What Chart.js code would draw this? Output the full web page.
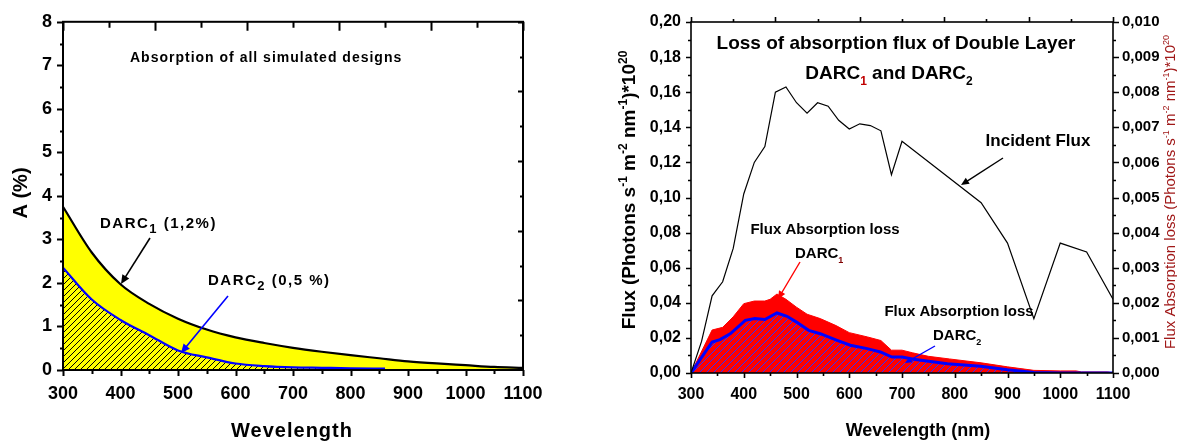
<!DOCTYPE html>
<html>
<head>
<meta charset="utf-8">
<script src="https://cdn.jsdelivr.net/npm/chart.js@4.4.0/dist/chart.umd.min.js"></script>
<style>
  body { margin: 0; background: #fff; }
  #wrap { position: relative; width: 1177px; height: 443px; overflow: hidden; }
  canvas { position: absolute; top: 0; }
  #cA { left: 0; }
  #cB { left: 575px; }
</style>
</head>
<body>
<div id="wrap">
  <canvas id="cA" width="570" height="443"></canvas>
  <canvas id="cB" width="602" height="443"></canvas>
</div>
<script>
// ---- painel esquerdo: absorção (%) ----
const wlD1 = [300, 350, 400, 450, 500, 550, 600, 650, 700, 750, 800, 850, 900, 950, 1000, 1050, 1100];
const absD1 = [3.75, 2.7, 1.97, 1.52, 1.18, 0.93, 0.75, 0.62, 0.51, 0.42, 0.34, 0.27, 0.2, 0.15, 0.11, 0.07, 0.05];
const wlD2 = [300, 350, 400, 450, 500, 550, 600, 650, 700, 750, 800, 860];
const absD2 = [2.35, 1.62, 1.15, 0.8, 0.45, 0.29, 0.15, 0.09, 0.06, 0.05, 0.04, 0.03];

const xTicksA = [300, 400, 500, 600, 700, 800, 900, 1000, 1100];
const xMinorA = [350, 450, 550, 650, 750, 850, 950, 1050];
const yTicksA = [0, 1, 2, 3, 4, 5, 6, 7, 8];
const yMinorA = [0.5, 1.5, 2.5, 3.5, 4.5, 5.5, 6.5, 7.5];
const topTicksA = [300, 460, 620, 780, 940, 1100];
const topMinorA = [380, 540, 700, 860, 1020];
const rightTicksA = [1.6, 3.2, 4.8, 6.4, 8];
const rightMinorA = [0.8, 2.4, 4.0, 5.6, 7.2];

// ---- painel direito: fluxo ----
const wlInc = [300, 320, 340, 360, 380, 400, 420, 440, 460, 480, 500, 520, 540, 560, 580, 600, 620, 640, 660, 680, 700, 850, 900, 950, 1000, 1050, 1100];
const fluxInc = [0, 0.018, 0.044, 0.052, 0.071, 0.102, 0.120, 0.129, 0.160, 0.163, 0.154, 0.148, 0.154, 0.152, 0.144, 0.139, 0.142, 0.141, 0.138, 0.113, 0.132, 0.097, 0.074, 0.031, 0.074, 0.069, 0.042];
const wlLoss1 = [300, 340, 360, 380, 400, 420, 440, 450, 463, 480, 500, 520, 545, 575, 600, 635, 660, 680, 700, 720, 750, 790, 850, 900, 950, 1000, 1030, 1040, 1090, 1100];
const loss1 = [0, 0.0245, 0.026, 0.032, 0.0395, 0.041, 0.041, 0.042, 0.045, 0.042, 0.0375, 0.0335, 0.031, 0.027, 0.023, 0.0205, 0.0185, 0.013, 0.013, 0.0115, 0.0095, 0.008, 0.0058, 0.0035, 0.0015, 0.0012, 0.0012, 0.0006, 0.0006, 0];
const wlLoss2 = [300, 340, 355, 375, 403, 421, 440, 463, 482, 500, 523, 545, 577, 602, 634, 659, 681, 700, 722, 786, 849, 900, 950, 1000, 1100];
const loss2 = [0, 0.0177, 0.019, 0.0225, 0.030, 0.031, 0.0305, 0.0342, 0.0323, 0.029, 0.0243, 0.0224, 0.0186, 0.0158, 0.0139, 0.012, 0.0091, 0.0091, 0.0078, 0.0053, 0.0038, 0.0018, 0.0003, 0, 0];

const xTicksB = [300, 400, 500, 600, 700, 800, 900, 1000, 1100];
const xMinorB = [350, 450, 550, 650, 750, 850, 950, 1050];
const yTicksB = [0, 0.02, 0.04, 0.06, 0.08, 0.10, 0.12, 0.14, 0.16, 0.18, 0.20];
const yMinorB = [0.01, 0.03, 0.05, 0.07, 0.09, 0.11, 0.13, 0.15, 0.17, 0.19];
const y2TicksB = [0, 0.001, 0.002, 0.003, 0.004, 0.005, 0.006, 0.007, 0.008, 0.009, 0.010];
const y2MinorB = [0.0005, 0.0015, 0.0025, 0.0035, 0.0045, 0.0055, 0.0065, 0.0075, 0.0085, 0.0095];
const topTicksB = [300, 460, 620, 780, 940, 1100];
const topMinorB = [380, 540, 700, 860, 1020];

const ARIAL = '"Liberation Sans", Arial, sans-serif';

function pts(xs, ys) { return xs.map((x, i) => ({ x, y: ys[i] })); }
function virgula(v, casas) { return v.toFixed(casas).replace('.', ','); }

function hachura(bg, fg, size, lw) {
  const c = document.createElement('canvas');
  c.width = c.height = size;
  const g = c.getContext('2d');
  g.fillStyle = bg;
  g.fillRect(0, 0, size, size);
  g.strokeStyle = fg;
  g.lineWidth = lw;
  g.beginPath();
  g.moveTo(-1, size + 1); g.lineTo(size + 1, -1);
  g.moveTo(-2, 2); g.lineTo(2, -2);
  g.moveTo(size - 2, size + 2); g.lineTo(size + 2, size - 2);
  g.stroke();
  return g.createPattern(c, 'repeat');
}

// texto com subscrito / sobrescrito; y = linha de base
function textoRico(ctx, runs, x, y, o) {
  ctx.save();
  ctx.translate(x, y);
  if (o.rot) ctx.rotate(o.rot);
  ctx.letterSpacing = (o.esp || 0) + 'px';
  const peso = o.peso || 'bold';
  const grande = `${peso} ${o.tam}px ${o.fam}`;
  const peq = `${peso} ${Math.round(o.tam * (o.fator || 0.62))}px ${o.fam}`;
  let w = 0;
  runs.forEach(r => { ctx.font = r[1] ? peq : grande; w += ctx.measureText(r[0]).width; });
  let cx = o.alinh === 'left' ? 0 : -w / 2;
  runs.forEach(r => {
    ctx.font = r[1] ? peq : grande;
    ctx.fillStyle = r[2] || o.cor || '#000';
    const dy = r[1] === 'sub' ? o.tam * 0.32 : r[1] === 'sup' ? -o.tam * 0.42 : 0;
    ctx.fillText(r[0], cx, dy);
    cx += ctx.measureText(r[0]).width;
  });
  ctx.restore();
}

function seta(ctx, x1, y1, x2, y2, cor, lw, cab) {
  const a = Math.atan2(y2 - y1, x2 - x1);
  ctx.save();
  ctx.strokeStyle = cor; ctx.fillStyle = cor; ctx.lineWidth = lw;
  ctx.beginPath(); ctx.moveTo(x1, y1); ctx.lineTo(x2 - Math.cos(a) * cab * 0.8, y2 - Math.sin(a) * cab * 0.8); ctx.stroke();
  ctx.beginPath();
  ctx.moveTo(x2, y2);
  ctx.lineTo(x2 - cab * Math.cos(a) + cab * 0.45 * Math.sin(a), y2 - cab * Math.sin(a) - cab * 0.45 * Math.cos(a));
  ctx.lineTo(x2 - cab * Math.cos(a) - cab * 0.45 * Math.sin(a), y2 - cab * Math.sin(a) + cab * 0.45 * Math.cos(a));
  ctx.closePath(); ctx.fill();
  ctx.restore();
}

// marcas de escala: lado, valores, comprimento (+ para fora, - para dentro)
function marcas(chart, defs, lw) {
  const ctx = chart.ctx, a = chart.chartArea;
  ctx.save();
  ctx.strokeStyle = '#000';
  ctx.lineWidth = lw;
  ctx.strokeRect(a.left, a.top, a.right - a.left, a.bottom - a.top);
  ctx.beginPath();
  defs.forEach(d => {
    const sc = chart.scales[d.escala];
    d.vals.forEach(v => {
      const p = Math.round(sc.getPixelForValue(v)) + 0.5;
      if (d.lado === 'bottom') { ctx.moveTo(p, a.bottom); ctx.lineTo(p, a.bottom + d.len); }
      if (d.lado === 'top') { ctx.moveTo(p, a.top); ctx.lineTo(p, a.top - d.len); }
      if (d.lado === 'left') { ctx.moveTo(a.left, p); ctx.lineTo(a.left - d.len, p); }
      if (d.lado === 'right') { ctx.moveTo(a.right, p); ctx.lineTo(a.right + d.len, p); }
    });
  });
  ctx.stroke();
  ctx.restore();
}

const fixarTicks = arr => (scale => { scale.ticks = arr.map(v => ({ value: v })); });

// ----- gráfico esquerdo -----
const hachA = hachura('#ffff00', '#000', 6, 1);

new Chart(document.getElementById('cA'), {
  type: 'line',
  data: {
    datasets: [
      { label: 'DARC2', data: pts(wlD2, absD2), borderColor: '#0000ff', borderWidth: 2.2, backgroundColor: hachA, fill: 'origin', pointRadius: 0, cubicInterpolationMode: 'monotone' },
      { label: 'DARC1', data: pts(wlD1, absD1), borderColor: '#000', borderWidth: 2.2, backgroundColor: '#ffff00', fill: 'origin', pointRadius: 0, cubicInterpolationMode: 'monotone' }
    ]
  },
  options: {
    responsive: false,
    animation: false,
    layout: { padding: { top: 15, right: 47, left: 0, bottom: 0 } },
    plugins: { legend: { display: false }, tooltip: { enabled: false } },
    scales: {
      x: {
        type: 'linear', min: 300, max: 1100,
        afterBuildTicks: fixarTicks(xTicksA),
        afterFit: s => { s.height = 73; },
        grid: { display: false, drawTicks: false },
        border: { display: false },
        ticks: { padding: 13, color: '#000', font: { family: ARIAL, size: 18, weight: 'bold' }, callback: v => String(v) }
      },
      y: {
        min: 0, max: 8,
        afterBuildTicks: fixarTicks(yTicksA),
        afterFit: s => { s.width = 63; },
        grid: { display: false, drawTicks: false },
        border: { display: false },
        ticks: { padding: 11, color: '#000', font: { family: ARIAL, size: 18, weight: 'bold' } }
      }
    }
  },
  plugins: [{
    id: 'extrasA',
    afterDraw(chart) {
      const ctx = chart.ctx;
      marcas(chart, [
        { escala: 'x', lado: 'bottom', vals: xTicksA, len: 6 },
        { escala: 'x', lado: 'bottom', vals: xMinorA, len: 4 },
        { escala: 'y', lado: 'left', vals: yTicksA, len: 6 },
        { escala: 'y', lado: 'left', vals: yMinorA, len: 3 },
        { escala: 'x', lado: 'top', vals: topTicksA, len: -9 },
        { escala: 'x', lado: 'top', vals: topMinorA, len: -6 },
        { escala: 'y', lado: 'right', vals: rightTicksA, len: -5 },
        { escala: 'y', lado: 'right', vals: rightMinorA, len: -3 }
      ], 2);
      textoRico(ctx, [['Absorption of all simulated designs']], 130, 62, { tam: 14, fam: ARIAL, esp: 1, alinh: 'left' });
      textoRico(ctx, [['DARC'], ['1', 'sub'], [' (1,2%)']], 100, 228, { tam: 15, fam: ARIAL, esp: 1.5, alinh: 'left', fator: 0.85 });
      textoRico(ctx, [['DARC'], ['2', 'sub'], [' (0,5 %)']], 208, 285, { tam: 15, fam: ARIAL, esp: 1.5, alinh: 'left', fator: 0.85 });
      seta(ctx, 150, 238, 121, 284, '#000', 1.6, 9);
      seta(ctx, 228, 296, 181, 353, '#0000ff', 1.6, 9);
      textoRico(ctx, [['A (%)']], 27, 193, { tam: 20, fam: ARIAL, rot: -Math.PI / 2 });
      textoRico(ctx, [['Wevelength']], 292, 437, { tam: 20, fam: ARIAL, esp: 1 });
    }
  }]
});

// ----- gráfico direito -----
const hachB = hachura('#ff0000', '#3030ff', 7, 1);

new Chart(document.getElementById('cB'), {
  type: 'line',
  data: {
    datasets: [
      { label: 'Incident Flux', data: pts(wlInc, fluxInc), borderColor: '#000', borderWidth: 1.2, fill: false, pointRadius: 0 },
      { label: 'DARC2', data: pts(wlLoss2, loss2), borderColor: '#0000ff', borderWidth: 3, backgroundColor: hachB, fill: 'origin', pointRadius: 0 },
      { label: 'DARC1', data: pts(wlLoss1, loss1), borderColor: '#ff0000', borderWidth: 1, backgroundColor: '#ff0000', fill: 'origin', pointRadius: 0 }
    ]
  },
  options: {
    responsive: false,
    animation: false,
    layout: { padding: { top: 22, right: 0, left: 0, bottom: 0 } },
    plugins: { legend: { display: false }, tooltip: { enabled: false } },
    scales: {
      x: {
        type: 'linear', min: 300, max: 1100,
        afterBuildTicks: fixarTicks(xTicksB),
        afterFit: s => { s.height = 70; },
        grid: { display: false, drawTicks: false },
        border: { display: false },
        ticks: { padding: 12, color: '#000', font: { family: ARIAL, size: 16, weight: 'bold' }, callback: v => String(v) }
      },
      y: {
        min: 0, max: 0.2,
        afterBuildTicks: fixarTicks(yTicksB),
        afterFit: s => { s.width = 116; },
        grid: { display: false, drawTicks: false },
        border: { display: false },
        ticks: { padding: 10, color: '#000', font: { family: ARIAL, size: 16, weight: 'bold' }, callback: v => virgula(v, 2) }
      },
      y2: {
        position: 'right', min: 0, max: 0.01,
        afterBuildTicks: fixarTicks(y2TicksB),
        afterFit: s => { s.width = 64; },
        grid: { display: false, drawTicks: false },
        border: { display: false },
        ticks: { padding: 9, color: '#000', font: { family: ARIAL, size: 15, weight: 'bold' }, callback: v => virgula(v, 3) }
      }
    }
  },
  plugins: [{
    id: 'extrasB',
    afterDraw(chart) {
      const ctx = chart.ctx;
      const o = -575; // deslocamento do canvas na página
      marcas(chart, [
        { escala: 'x', lado: 'bottom', vals: xTicksB, len: 5 },
        { escala: 'x', lado: 'bottom', vals: xMinorB, len: 3 },
        { escala: 'y', lado: 'left', vals: yTicksB, len: 5 },
        { escala: 'y', lado: 'left', vals: yMinorB, len: 3 },
        { escala: 'x', lado: 'top', vals: topTicksB, len: 5 },
        { escala: 'x', lado: 'top', vals: topMinorB, len: 3 },
        { escala: 'y2', lado: 'right', vals: y2TicksB, len: 6 },
        { escala: 'y2', lado: 'right', vals: y2MinorB, len: 3 }
      ], 1.6);
      textoRico(ctx, [['Loss of absorption flux of Double Layer']], 896 + o, 49, { tam: 19, fam: ARIAL });
      textoRico(ctx, [['DARC'], ['1', 'sub', '#c00000'], [' and DARC'], ['2', 'sub']], 889 + o, 79, { tam: 19, fam: ARIAL });
      textoRico(ctx, [['Incident Flux']], 1038 + o, 146, { tam: 17, fam: ARIAL });
      seta(ctx, 1003 + o, 158, 961 + o, 185, '#000', 1.4, 8);
      textoRico(ctx, [['Flux Absorption loss']], 825 + o, 234, { tam: 15, fam: ARIAL });
      textoRico(ctx, [['DARC'], ['1', 'sub', '#800000']], 795 + o, 258, { tam: 15, fam: ARIAL, alinh: 'left' });
      seta(ctx, 800 + o, 262, 778 + o, 299, '#ff0000', 1.4, 8);
      textoRico(ctx, [['Flux Absorption loss']], 959 + o, 316, { tam: 15, fam: ARIAL });
      textoRico(ctx, [['DARC'], ['2', 'sub']], 933 + o, 340, { tam: 15, fam: ARIAL, alinh: 'left' });
      seta(ctx, 935 + o, 346, 905 + o, 363, '#0000ff', 1.4, 7);
      textoRico(ctx, [['Flux (Photons s'], ['-1', 'sup'], [' m'], ['-2', 'sup'], [' nm'], ['-1', 'sup'], [')*10'], ['20', 'sup']], 635 + o, 190, { tam: 19, fam: ARIAL, rot: -Math.PI / 2 });
      textoRico(ctx, [['Flux Absorption loss (Photons s'], ['-1', 'sup'], [' m'], ['-2', 'sup'], [' nm'], ['-1', 'sup'], [')*10'], ['20', 'sup']], 1175 + o, 192, { tam: 15, fam: ARIAL, peso: 'normal', cor: '#a01818', rot: -Math.PI / 2 });
      textoRico(ctx, [['Wevelength (nm)']], 918 + o, 436, { tam: 18, fam: ARIAL });
    }
  }]
});
</script>
</body>
</html>
